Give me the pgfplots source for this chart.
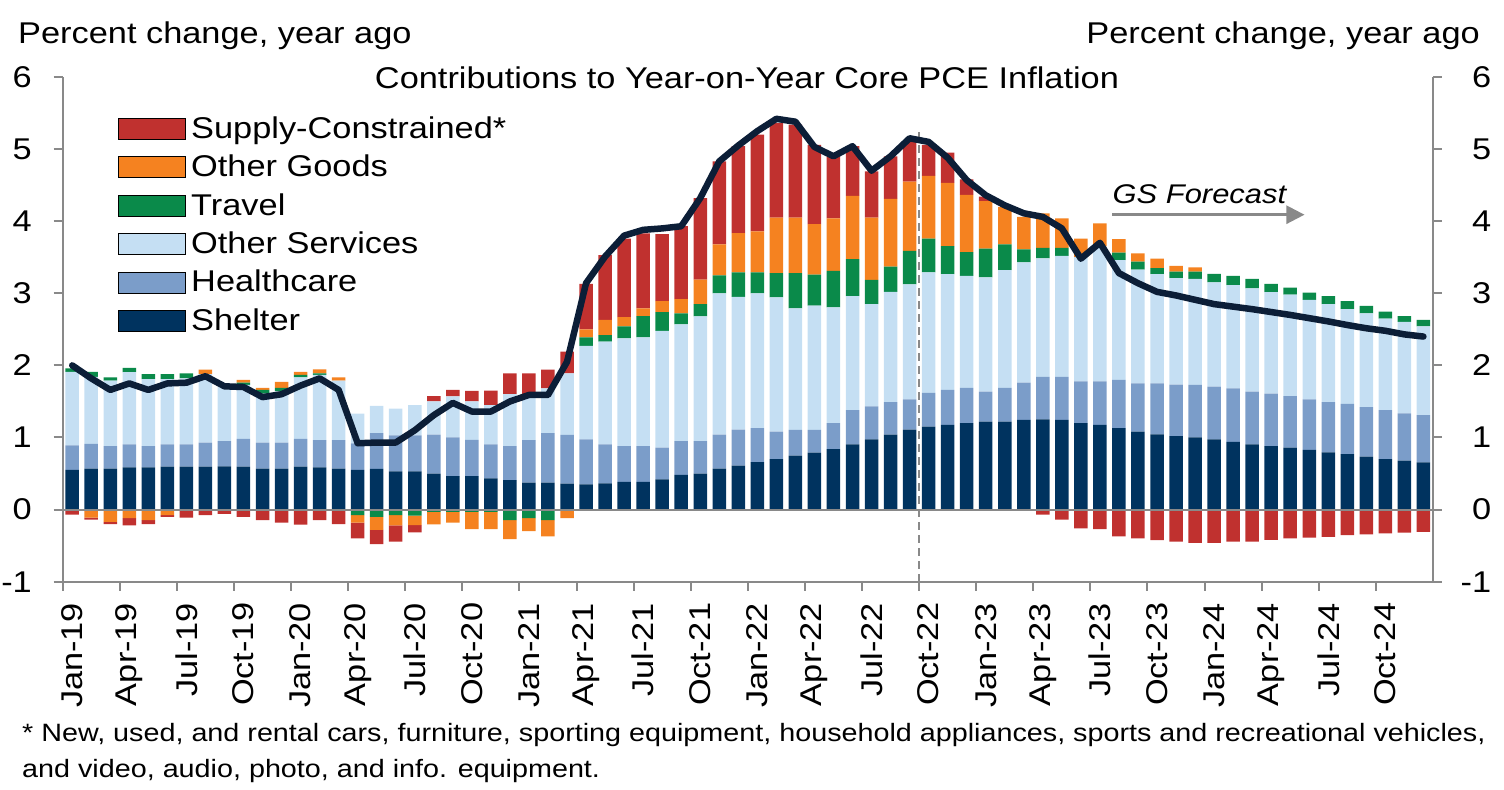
\documentclass[border=0pt]{standalone}
\usepackage{fontspec}
\setmainfont{Liberation Sans}[FakeStretch=1.145]
\usepackage{pgfplots}
\pgfplotsset{compat=1.18}
\usepackage{pgfplotstable}
\usetikzlibrary{arrows.meta}
\definecolor{scRed}{RGB}{192,49,47}
\definecolor{gdOrange}{RGB}{245,130,32}
\definecolor{trGreen}{RGB}{10,138,74}
\definecolor{osLight}{RGB}{197,223,243}
\definecolor{hcMed}{RGB}{123,157,201}
\definecolor{shDark}{RGB}{0,51,95}
\definecolor{lineC}{RGB}{12,30,55}
\definecolor{axgray}{RGB}{137,137,137}
\pgfplotstableread{
i sh hc os tr gd sc trn gdn scn pce
0 0.55 0.34 1.02 0.05 0 0 0 0 -0.07 2.00
1 0.57 0.34 0.93 0.07 0 0 0 -0.11 -0.03 1.82
2 0.57 0.31 0.91 0.045 0 0 0 -0.17 -0.03 1.66
3 0.585 0.32 1.00 0.06 0 0 0 -0.12 -0.10 1.75
4 0.585 0.295 0.93 0.07 0 0 0 -0.145 -0.055 1.66
5 0.595 0.31 0.905 0.07 0 0 0 -0.075 -0.025 1.75
6 0.595 0.31 0.915 0.07 0 0 0 0 -0.11 1.76
7 0.595 0.335 0.95 0 0.06 0 0 0 -0.075 1.85
8 0.60 0.35 0.75 0 0 0 0 0 -0.06 1.71
9 0.595 0.385 0.75 0.03 0.04 0 0 0 -0.10 1.70
10 0.57 0.36 0.68 0.05 0.03 0 0 0 -0.145 1.56
11 0.57 0.36 0.71 0.05 0.08 0 0 0 -0.18 1.60
12 0.595 0.385 0.855 0.035 0.04 0 0 0 -0.21 1.72
13 0.585 0.38 0.905 0.02 0.055 0 0 0 -0.145 1.82
14 0.57 0.395 0.825 0 0.045 0 0 0 -0.20 1.66
15 0.55 0.37 0.41 0 0 0 -0.075 -0.105 -0.22 0.92
16 0.565 0.495 0.38 0 0 0 -0.10 -0.18 -0.20 0.93
17 0.53 0.50 0.37 0 0 0 -0.075 -0.145 -0.225 0.93
18 0.53 0.50 0.42 0 0 0 -0.085 -0.13 -0.10 1.10
19 0.50 0.54 0.46 0 0 0.075 -0.03 -0.175 0 1.31
20 0.466 0.534 0.57 0 0 0.09 -0.03 -0.15 0 1.48
21 0.466 0.50 0.535 0 0 0.145 -0.03 -0.24 0 1.36
22 0.434 0.47 0.545 0 0 0.20 -0.03 -0.24 0 1.36
23 0.41 0.47 0.72 0 0 0.29 -0.145 -0.265 0 1.50
24 0.374 0.59 0.635 0 0 0.29 -0.12 -0.18 0 1.59
25 0.374 0.686 0.62 0 0 0.26 -0.145 -0.225 0 1.59
26 0.36 0.675 0.855 0 0 0.30 0 -0.12 0 2.05
27 0.35 0.625 1.295 0.12 0.11 0.63 0 0 0 3.14
28 0.363 0.542 1.425 0.09 0.21 0.90 0 0 0 3.51
29 0.386 0.494 1.495 0.165 0.13 1.09 0 0 0 3.80
30 0.386 0.494 1.51 0.295 0.105 1.04 0 0 0 3.88
31 0.42 0.44 1.62 0.26 0.15 0.93 0 0 0 3.90
32 0.48 0.47 1.62 0.15 0.20 1.01 0 0 0 3.93
33 0.50 0.45 1.73 0.17 0.34 1.13 0 0 0 4.32
34 0.57 0.47 1.96 0.25 0.43 1.15 0 0 0 4.83
35 0.61 0.50 1.84 0.34 0.545 1.205 0 0 0 5.05
36 0.66 0.47 1.87 0.29 0.57 1.34 0 0 0 5.25
37 0.70 0.38 1.865 0.335 0.77 1.31 0 0 0 5.42
38 0.75 0.355 1.685 0.49 0.77 1.29 0 0 0 5.38
39 0.79 0.315 1.725 0.43 0.70 1.10 0 0 0 5.03
40 0.84 0.36 1.605 0.505 0.73 0.86 0 0 0 4.90
41 0.905 0.475 1.58 0.515 0.875 0.69 0 0 0 5.04
42 0.975 0.455 1.42 0.335 0.865 0.64 0 0 0 4.70
43 1.04 0.45 1.53 0.35 0.94 0.59 0 0 0 4.90
44 1.11 0.42 1.595 0.465 0.96 0.55 0 0 0 5.15
45 1.15 0.47 1.67 0.47 0.87 0.43 0 0 0 5.10
46 1.175 0.485 1.605 0.39 0.875 0.42 0 0 0 4.88
47 1.20 0.49 1.55 0.33 0.795 0.215 0 0 0 4.57
48 1.22 0.415 1.585 0.40 0.66 0.06 0 0 0 4.36
49 1.22 0.47 1.63 0.36 0.52 0 0 0 0 4.22
50 1.245 0.515 1.67 0.18 0.45 0 0 0 0 4.11
51 1.25 0.59 1.645 0.145 0.48 0 0 0 -0.07 4.06
52 1.245 0.595 1.68 0.11 0.41 0 0 0 -0.14 3.90
53 1.20 0.58 1.72 0 0.26 0 0 0 -0.26 3.48
54 1.175 0.605 1.87 0 0.32 0 0 0 -0.27 3.70
55 1.13 0.67 1.66 0.105 0.185 0 0 0 -0.37 3.28
56 1.08 0.67 1.58 0.11 0.115 0 0 0 -0.40 3.14
57 1.045 0.705 1.515 0.085 0.13 0 0 0 -0.425 3.02
58 1.02 0.715 1.475 0.09 0.08 0 0 0 -0.445 2.97
59 1.00 0.73 1.47 0.10 0.06 0 0 0 -0.46 2.91
60 0.975 0.73 1.445 0.12 0 0 0 0 -0.46 2.85
61 0.94 0.74 1.435 0.125 0 0 0 0 -0.445 2.815
62 0.905 0.73 1.435 0.13 0 0 0 0 -0.445 2.78
63 0.88 0.73 1.405 0.115 0 0 0 0 -0.42 2.74
64 0.86 0.715 1.405 0.10 0 0 0 0 -0.40 2.70
65 0.83 0.70 1.38 0.10 0 0 0 0 -0.39 2.655
66 0.795 0.695 1.36 0.11 0 0 0 0 -0.38 2.61
67 0.77 0.695 1.315 0.11 0 0 0 0 -0.355 2.56
68 0.735 0.685 1.30 0.105 0 0 0 0 -0.345 2.515
69 0.70 0.68 1.27 0.095 0 0 0 0 -0.33 2.48
70 0.68 0.655 1.27 0.08 0 0 0 0 -0.32 2.43
71 0.655 0.655 1.23 0.09 0 0 0 0 -0.31 2.40
}\data
\newcommand{\bigfont}{\fontsize{30bp}{36bp}\selectfont}
\begin{document}
\begin{tikzpicture}
\useasboundingbox (0,0) rectangle (1504bp,790bp);
\pgfplotsset{
  base/.style={scale only axis, width=1370.3bp, height=504.7bp,
    at={(62.7bp,208.3bp)}, anchor=south west,
    xmin=-0.5, xmax=71.5, ymin=-1, ymax=6, enlargelimits=false},
  yax/.style={ytick={-1,0,...,6}, yticklabels={-1,0,1,2,3,4,5,6},
    tick align=outside, major tick length=9bp,
    axis line style={draw=axgray, line width=2bp},
    every tick/.style={draw=axgray, line width=2bp}}
}
% negatives + right axis
\begin{axis}[base, yax, ybar stacked, bar width=13.5bp,
  axis x line=none, axis y line*=right,
  yticklabel style={font=\bigfont, anchor=west, inner sep=0pt, text width=34bp, align=right, xshift=15bp}]
\addplot[fill=trGreen, draw=none] table[x=i,y=trn]{\data};
\addplot[fill=gdOrange, draw=none] table[x=i,y=gdn]{\data};
\addplot[fill=scRed, draw=none] table[x=i,y=scn]{\data};
\end{axis}
% positives + left axis + x axis
\begin{axis}[base, yax, ybar stacked, bar width=13.5bp,
  axis x line*=bottom, axis y line*=left,
  yticklabel style={font=\bigfont, anchor=east, inner sep=0pt, xshift=-21.7bp},
  xtick={-0.5,2.5,...,68.5}, xticklabels={},
  extra x ticks={0,3,...,69},
  extra x tick labels={Jan-19,Apr-19,Jul-19,Oct-19,Jan-20,Apr-20,Jul-20,Oct-20,Jan-21,Apr-21,Jul-21,Oct-21,Jan-22,Apr-22,Jul-22,Oct-22,Jan-23,Apr-23,Jul-23,Oct-23,Jan-24,Apr-24,Jul-24,Oct-24},
  extra x tick style={major tick length=0pt},
  xticklabel style={yshift=-21bp, rotate=90, anchor=east, inner sep=0pt, font=\bigfont},
  legend style={at={(0.0379,0.9266)}, anchor=north west, draw=none, fill=none,
    font=\bigfont, nodes={inner sep=0pt, text height=22bp, text depth=6bp, anchor=base west}, row sep=10.4bp, legend cell align=left},
  legend image code/.code={\fill[#1] (0bp,-1bp) rectangle (67bp,20bp); \path (73bp,0bp);}
]
\addplot[fill=shDark, draw=none, forget plot] table[x=i,y=sh]{\data};
\addplot[fill=hcMed, draw=none, forget plot] table[x=i,y=hc]{\data};
\addplot[fill=osLight, draw=none, forget plot] table[x=i,y=os]{\data};
\addplot[fill=trGreen, draw=none, forget plot] table[x=i,y=tr]{\data};
\addplot[fill=gdOrange, draw=none, forget plot] table[x=i,y=gd]{\data};
\addplot[fill=scRed, draw=none, forget plot] table[x=i,y=sc]{\data};
\addlegendimage{fill=scRed}\addlegendentry{Supply-Constrained*}
\addlegendimage{fill=gdOrange}\addlegendentry{Other Goods}
\addlegendimage{fill=trGreen}\addlegendentry{Travel}
\addlegendimage{fill=osLight}\addlegendentry{Other Services}
\addlegendimage{fill=hcMed}\addlegendentry{Healthcare}
\addlegendimage{fill=shDark}\addlegendentry{Shelter}
\end{axis}
% line and annotations
\begin{axis}[base, hide axis, clip=false]
\draw[color=axgray, line width=2bp] (axis cs:-0.5,0) -- (axis cs:71.5,0);
\draw[color=axgray, line width=2bp, dash pattern=on 8bp off 5bp] (axis cs:44.5,-1) -- (axis cs:44.5,5.3);
\addplot[line width=6.5bp, color=lineC, line join=round, line cap=round, mark=none] table[x=i,y=pce]{\data};
\draw[color=axgray, line width=2.5bp, -{Triangle[length=18bp,width=18bp]}] (axis cs:54.66,4.09) -- (axis cs:64.75,4.09);
\node[anchor=base west, inner sep=0pt, font=\itshape\fontsize{27bp}{32bp}\selectfont] at (axis cs:54.66,4.25) {GS Forecast};
\end{axis}
\node[anchor=base west, inner sep=0pt, font=\bigfont] at (18bp,746bp) {Percent change, year ago};
\node[anchor=base east, inner sep=0pt, font=\bigfont] at (1480bp,746bp) {Percent change, year ago};
\node[anchor=base, inner sep=0pt, font=\bigfont] at (747bp,701.7bp) {Contributions to Year-on-Year Core PCE Inflation};
\node[anchor=base west, inner sep=0pt, font=\fontsize{25.1bp}{30bp}\selectfont] at (22bp,48bp) {* New, used, and rental cars, furniture, sporting equipment, household appliances, sports and recreational vehicles,};
\node[anchor=base west, inner sep=0pt, font=\fontsize{25.1bp}{30bp}\selectfont] at (22bp,13bp) {and video, audio, photo, and info. equipment.};
\end{tikzpicture}
\end{document}
